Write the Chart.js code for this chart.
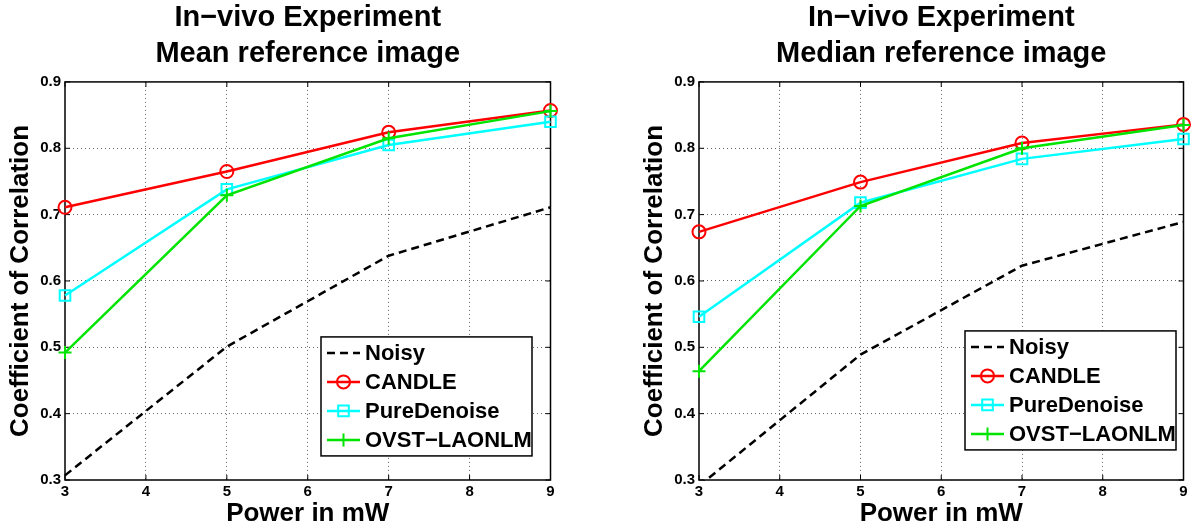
<!DOCTYPE html>
<html lang="en">
<head>
  <meta charset="UTF-8">
  <title>In-vivo Experiment</title>
  <script src="https://cdn.jsdelivr.net/npm/chart.js"></script>
  <style>
    body { margin: 0; background: #fff; width: 1193px; height: 529px; position: relative; overflow: hidden; }
    canvas { position: absolute; top: 0; }
    #meanChart { left: 0; }
    #medianChart { left: 634px; }
  </style>
</head>
<body>
  <canvas id="meanChart" width="560" height="529"></canvas>
  <canvas id="medianChart" width="559" height="529"></canvas>

  <script>
    // Power (mW) on the x axis
    const powers = [3, 5, 7, 9];
    const seriesNames = ['Noisy', 'CANDLE', 'PureDenoise', 'OVST\u2212LAONLM'];

    // Mean reference image
    const meanNoisy = [0.307, 0.501, 0.638, 0.711];
    const meanCandle = [0.711, 0.765, 0.824, 0.857];
    const meanPure = [0.578, 0.738, 0.805, 0.840];
    const meanOvst = [0.492, 0.729, 0.815, 0.856];

    // Median reference image
    const medNoisy = [0.291, 0.489, 0.623, 0.689];
    const medCandle = [0.674, 0.749, 0.808, 0.836];
    const medPure = [0.546, 0.718, 0.784, 0.814];
    const medOvst = [0.464, 0.713, 0.800, 0.835];

    const FONT = '"Liberation Sans", Arial, Helvetica, sans-serif';
    Chart.defaults.font.family = FONT;
    Chart.defaults.color = '#000';

    const toPoints = vals => vals.map((v, i) => ({ x: powers[i], y: v }));

    // box, inward ticks and legend drawn matlab style
    const boxLegend = {
      id: 'boxLegend',
      beforeDatasetsDraw(chart) {
        const ctx = chart.ctx;
        const a = chart.chartArea;
        const xs = chart.scales.x, ys = chart.scales.y;
        ctx.save();
        ctx.strokeStyle = '#000';
        ctx.lineWidth = 1.5;
        ctx.setLineDash([]);
        ctx.strokeRect(a.left, a.top, a.right - a.left, a.bottom - a.top);
        ctx.lineWidth = 1;
        ctx.beginPath();
        xs.ticks.forEach(t => {
          const px = xs.getPixelForValue(t.value);
          ctx.moveTo(px, a.bottom); ctx.lineTo(px, a.bottom - 5);
          ctx.moveTo(px, a.top); ctx.lineTo(px, a.top + 5);
        });
        ys.ticks.forEach(t => {
          const py = ys.getPixelForValue(t.value);
          ctx.moveTo(a.left, py); ctx.lineTo(a.left + 5, py);
          ctx.moveTo(a.right, py); ctx.lineTo(a.right - 5, py);
        });
        ctx.stroke();
        ctx.restore();
      },
      afterDatasetsDraw(chart, args, opts) {
        const ctx = chart.ctx;
        const x0 = chart.chartArea.left + opts.x;
        const y0 = chart.chartArea.top + opts.y;
        ctx.save();
        ctx.fillStyle = '#fff';
        ctx.fillRect(x0, y0, opts.w, opts.h);
        ctx.strokeStyle = '#000';
        ctx.lineWidth = 1.5;
        ctx.strokeRect(x0, y0, opts.w, opts.h);
        chart.data.datasets.forEach((ds, i) => {
          const cy = y0 + 16 + i * 29;
          ctx.strokeStyle = ds.borderColor;
          ctx.lineWidth = ds.borderWidth;
          ctx.setLineDash(ds.borderDash || []);
          ctx.beginPath();
          ctx.moveTo(x0 + 6, cy);
          ctx.lineTo(x0 + 39, cy);
          ctx.stroke();
          ctx.setLineDash([]);
          if (ds.pointRadius > 0) {
            ctx.fillStyle = 'rgba(0,0,0,0)';
            ctx.lineWidth = ds.pointBorderWidth;
            Chart.helpers.drawPoint(ctx, {
              pointStyle: ds.pointStyle, radius: ds.pointRadius,
              borderWidth: ds.pointBorderWidth, rotation: 0
            }, x0 + 22.5, cy);
          }
          ctx.fillStyle = '#000';
          ctx.font = 'bold 22px ' + FONT;
          ctx.textBaseline = 'middle';
          ctx.textAlign = 'left';
          ctx.fillText(ds.label, x0 + 44, cy + 1);
        });
        ctx.restore();
      }
    };

    function makeDatasets(noisy, candle, pure, ovst) {
      return [
        {
          label: seriesNames[0], data: toPoints(noisy), order: 4,
          borderColor: '#000', borderWidth: 2.5, borderDash: [8, 5],
          pointRadius: 0, clip: 1
        },
        {
          label: seriesNames[1], data: toPoints(candle), order: 3,
          borderColor: '#ff0000', borderWidth: 2.5, clip: false,
          pointStyle: 'circle', pointRadius: 6.5, pointBorderWidth: 2,
          pointBackgroundColor: 'rgba(0,0,0,0)', pointBorderColor: '#ff0000'
        },
        {
          label: seriesNames[2], data: toPoints(pure), order: 2,
          borderColor: '#00ffff', borderWidth: 2.5, clip: false,
          pointStyle: 'rect', pointRadius: 7.5, pointBorderWidth: 2,
          pointBackgroundColor: 'rgba(0,0,0,0)', pointBorderColor: '#00ffff'
        },
        {
          label: seriesNames[3], data: toPoints(ovst), order: 1,
          borderColor: '#00e400', borderWidth: 2.5, clip: false,
          pointStyle: 'cross', pointRadius: 6.5, pointBorderWidth: 2,
          pointBackgroundColor: 'rgba(0,0,0,0)', pointBorderColor: '#00e400'
        }
      ];
    }

    function edgeColor(min, max) {
      return c => (Math.abs(c.tick.value - min) < 1e-6 || Math.abs(c.tick.value - max) < 1e-6)
        ? 'rgba(0,0,0,0)' : 'rgba(0,0,0,0.6)';
    }

    function makeChart(id, subtitle, datasets, legendPos) {
      return new Chart(document.getElementById(id), {
        type: 'line',
        data: { datasets: datasets },
        plugins: [boxLegend],
        options: {
          responsive: false,
          animation: false,
          devicePixelRatio: 1,
          layout: { padding: { left: 0, right: 9, top: 0, bottom: 0 } },
          plugins: {
            legend: { display: false },
            tooltip: { enabled: false },
            title: {
              display: true,
              fullSize: false,
              text: ['In\u2212vivo Experiment', subtitle],
              font: { size: 29, weight: 'bold', lineHeight: 1.24 },
              color: '#000',
              padding: { top: 0, bottom: 10 }
            },
            boxLegend: legendPos
          },
          scales: {
            x: {
              type: 'linear', min: 3, max: 9,
              afterFit: s => { s.height = 49; },
              ticks: { stepSize: 1, font: { size: 15, weight: 'bold' }, padding: 3, maxRotation: 0 },
              grid: { color: edgeColor(3, 9), lineWidth: 1, drawTicks: false },
              border: { display: false, dash: [1, 3] },
              title: {
                display: true, text: 'Power in mW',
                font: { size: 26, weight: 'bold', lineHeight: 1.2 },
                padding: { top: 0, bottom: 0 }
              }
            },
            y: {
              min: 0.3, max: 0.9,
              afterFit: s => { s.width = 65; },
              ticks: {
                stepSize: 0.1, font: { size: 15, weight: 'bold' }, padding: 4,
                callback: v => v.toFixed(1)
              },
              grid: { color: edgeColor(0.3, 0.9), lineWidth: 1, drawTicks: false },
              border: { display: false, dash: [1, 3] },
              title: {
                display: true, text: 'Coefficient of Correlation',
                font: { size: 26, weight: 'bold', lineHeight: 1.2 },
                padding: { top: 5, bottom: 0 }
              }
            }
          }
        }
      });
    }

    makeChart('meanChart', 'Mean reference image',
      makeDatasets(meanNoisy, meanCandle, meanPure, meanOvst),
      { x: 256, y: 255, w: 211, h: 119 });

    makeChart('medianChart', 'Median reference image',
      makeDatasets(medNoisy, medCandle, medPure, medOvst),
      { x: 266, y: 249, w: 211, h: 119 });
  </script>
</body>
</html>
